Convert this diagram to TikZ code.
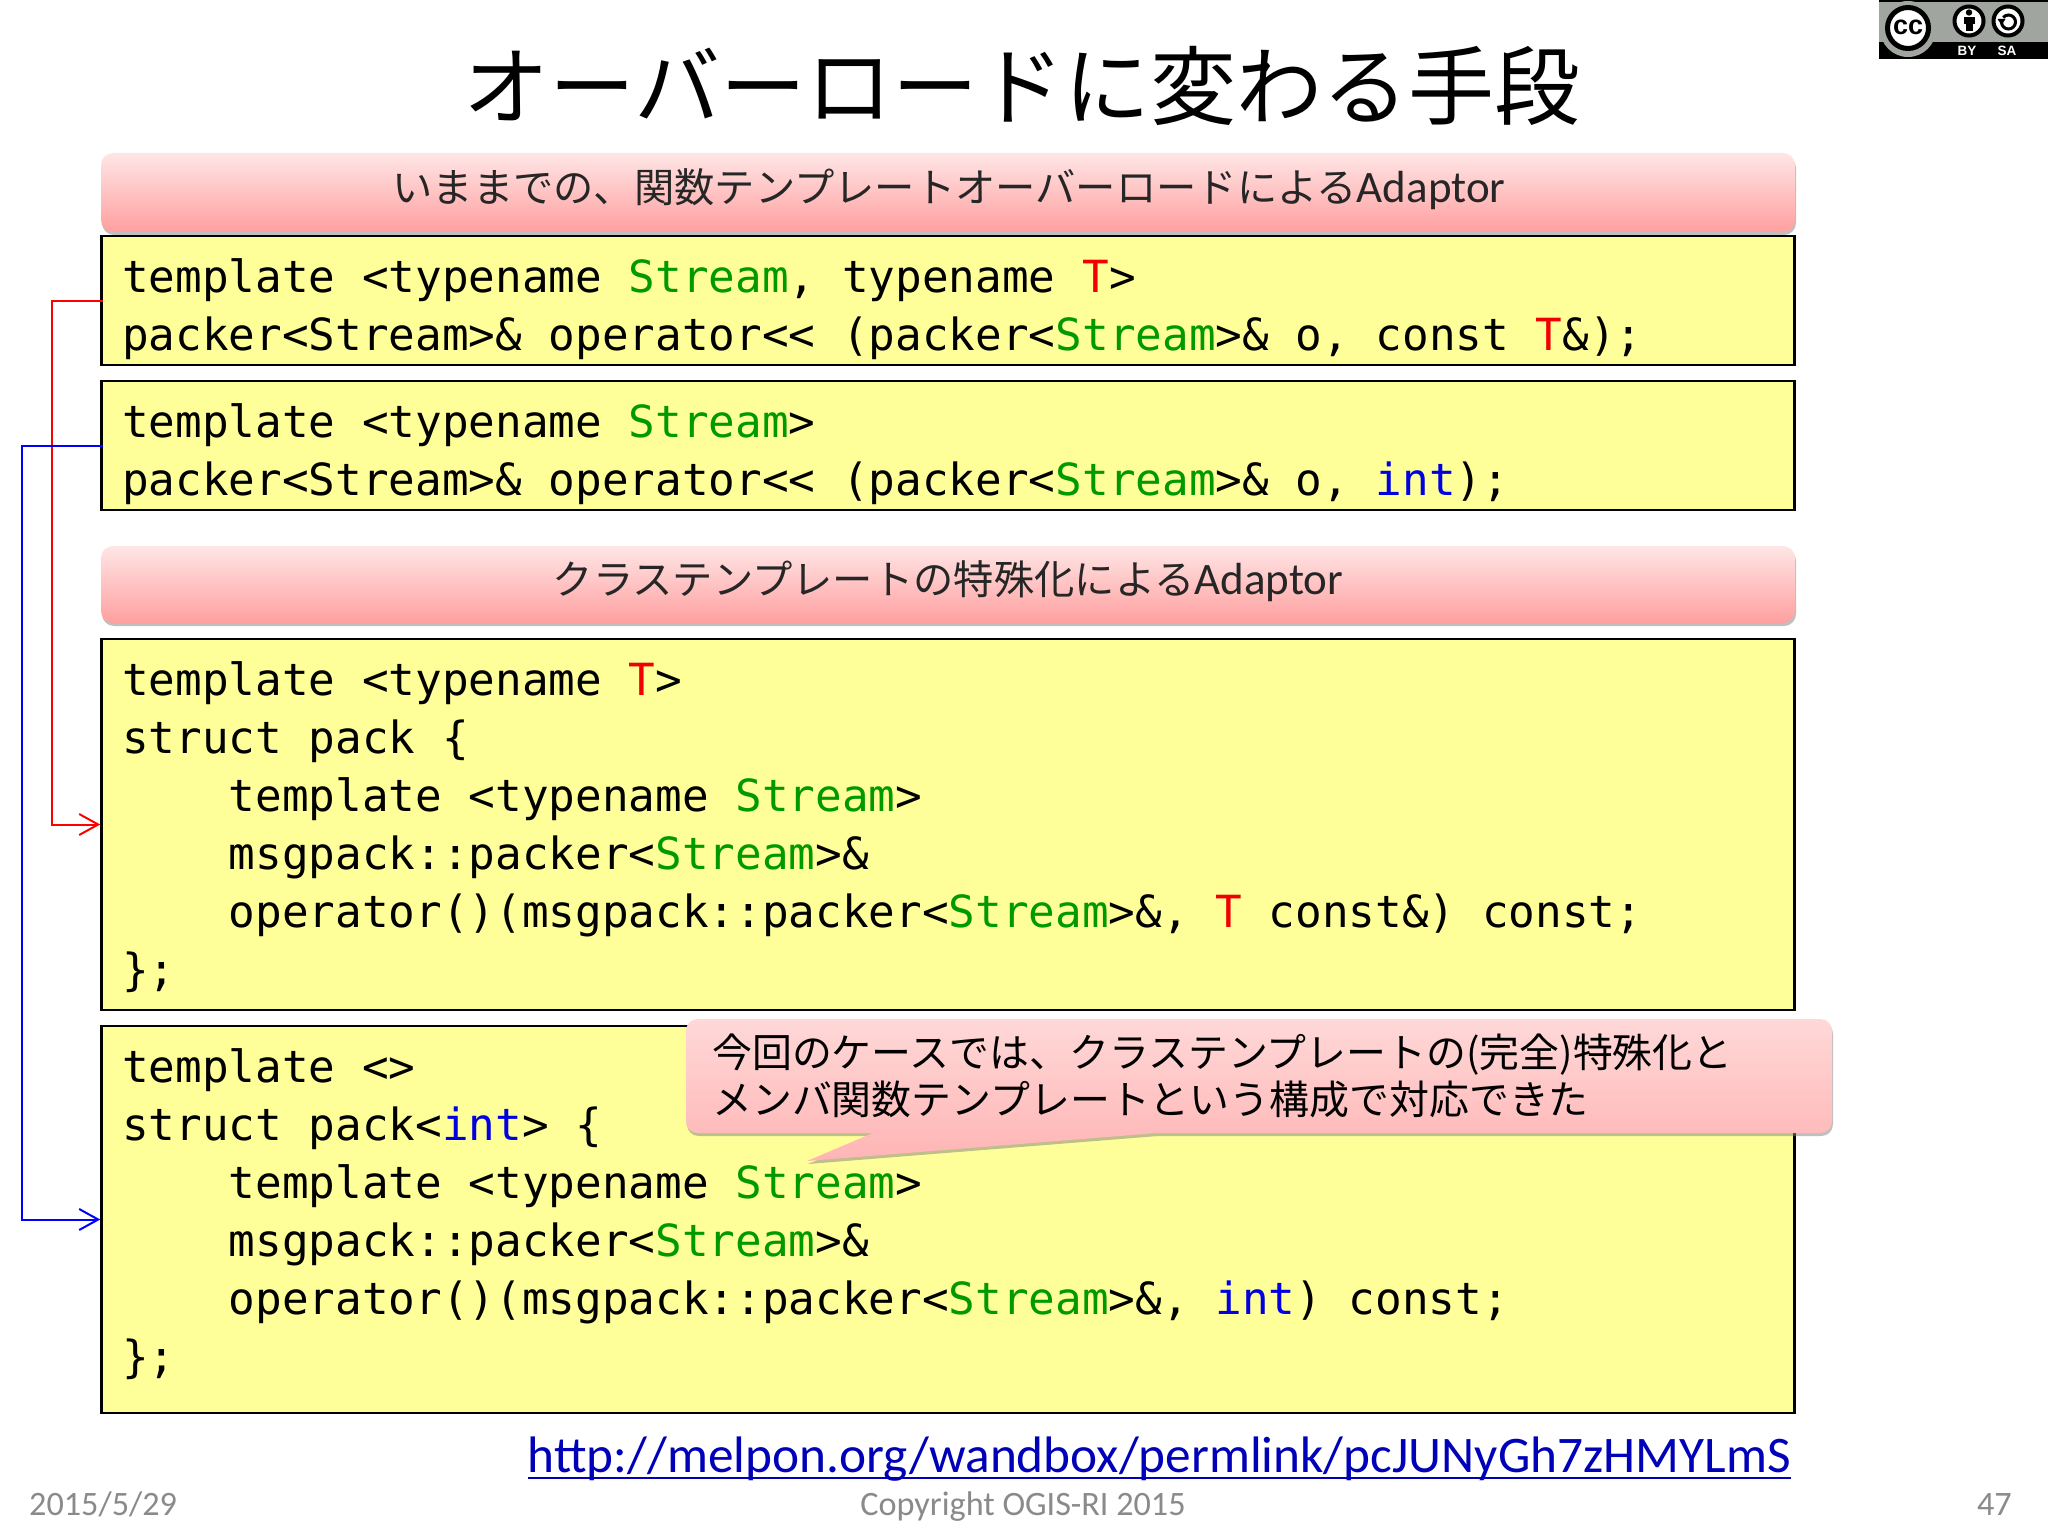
\documentclass[tikz,border=0pt]{standalone}
\usepackage{fontspec}
\setmainfont{Carlito}
\newfontfamily\cjk{Noto Sans CJK JP}
\newfontfamily\codef{DejaVu Sans Mono}
\usetikzlibrary{arrows.meta,shadows,calc}
\definecolor{codeyellow}{HTML}{FFFF99}
\definecolor{hdrtop}{HTML}{FFE6E6}
\definecolor{hdrbot}{HTML}{FF9F9F}
\definecolor{cgreen}{HTML}{009A00}
\definecolor{cred}{HTML}{F00000}
\definecolor{cblue}{HTML}{0000E0}
\definecolor{linkblue}{HTML}{0000B8}
\definecolor{foot}{HTML}{8A8A8A}
\definecolor{badge}{HTML}{A0A5A0}
\newcommand{\St}{\textcolor{cgreen}{Stream}}
\newcommand{\Tt}{\textcolor{cred}{T}}
\newcommand{\It}{\textcolor{cblue}{int}}
\tikzset{
  x=1pt,y=-1pt,
  codebox/.style={draw=black,line width=2.5pt,fill=codeyellow,inner sep=0pt,minimum width=1693pt},
  hdr/.style={rounded corners=12pt,top color=hdrtop,bottom color=hdrbot,inner sep=0pt,minimum width=1694pt,
     drop shadow={shadow xshift=1pt,shadow yshift=-3pt,opacity=.5}},
  hdrtext/.style={inner sep=0pt,anchor=base,font=\cjk\fontsize{40.3}{41}\selectfont,text=black!85},
  code/.style={anchor=base west,inner sep=0pt,font=\codef\fontsize{44.3}{58}\selectfont,text=black},
  foottext/.style={anchor=base,inner sep=0pt,font=\fontsize{34.2}{34}\selectfont,text=foot},
  link/.style={line width=2pt},
  conn/.style={line width=2pt,-{Straight Barb[length=19pt,width=21pt,line width=2pt]}},
  note/.style={anchor=base west,inner sep=0pt,font=\cjk\fontsize{39.9}{40}\selectfont,text=black},
}
\begin{document}
\begin{tikzpicture}
\useasboundingbox (0,0) rectangle (2048,1536);
\fill[white] (0,0) rectangle (2048,1536);
% title
\node[anchor=base,inner sep=0pt,font=\cjk\fontsize{86}{86}\selectfont,text=black] (title) at (1022,119) {オーバーロードに変わる手段};
% headers
\node[hdr,minimum height=79pt] (h1) at (948,192.5) {};
\node[hdrtext] (h1t) at (949,202) {いままでの、関数テンプレートオーバーロードによる{\fontspec{Carlito}\fontsize{45}{46}\selectfont Adaptor}};
\node[hdr,minimum height=77pt] (h2) at (948,584.5) {};
\node[hdrtext] (h2t) at (948,594) {クラステンプレートの特殊化による{\fontspec{Carlito}\fontsize{45}{46}\selectfont Adaptor}};
% boxes
\node[codebox,minimum height=129pt] (b1) at (948,300.5) {};
\node[codebox,minimum height=129pt] (b2) at (948,445.5) {};
\node[codebox,minimum height=371pt] (b3) at (948,824.5) {};
\node[codebox,minimum height=387pt] (b4) at (948,1219.5) {};
% code
\node[code] (c11) at (122,292) {template <typename \St, typename \Tt>};
\node[code] (c12) at (122,350) {packer<Stream>\& operator<< (packer<\St>\& o, const \Tt\&);};
\node[code] (c21) at (122,437) {template <typename \St>};
\node[code] (c22) at (122,495) {packer<Stream>\& operator<< (packer<\St>\& o, \It);};
\node[code] (c31) at (122,695) {template <typename \Tt>};
\node[code] (c32) at (122,753) {struct pack \{};
\node[code] (c33) at (228.5,811) {template <typename \St>};
\node[code] (c34) at (228.5,869) {msgpack::packer<\St>\&};
\node[code] (c35) at (228.5,927) {operator()(msgpack::packer<\St>\&, \Tt{} const\&) const;};
\node[code] (c36) at (122,985) {\};};
\node[code] (c41) at (122,1082) {template <>};
\node[code] (c42) at (122,1140) {struct pack<\It> \{};
\node[code] (c43) at (228.5,1198) {template <typename \St>};
\node[code] (c44) at (228.5,1256) {msgpack::packer<\St>\&};
\node[code] (c45) at (228.5,1314) {operator()(msgpack::packer<\St>\&, \It) const;};
\node[code] (c46) at (122,1372) {\};};
% connectors
\coordinate (rv) at (52,300);
\coordinate (bv) at (22,445);
\draw[conn,red,shorten <=-3pt] (b1.west) -- (b1.west -| rv) -- (b3.west -| rv) -- (b3.west);
\draw[conn,blue,shorten <=-3pt] (b2.west) -- (b2.west -| bv) -- (b4.west -| bv) -- (b4.west);
% callout
\path[top color=hdrtop!80!hdrbot,bottom color=hdrbot!70!hdrtop,drop shadow={shadow xshift=1pt,shadow yshift=-3pt,opacity=.5}]
  (698,1019) -- (1820,1019)
  .. controls (1827,1019) and (1832,1024) .. (1832,1031) -- (1832,1121)
  .. controls (1832,1128) and (1827,1133) .. (1820,1133)
  -- (1157,1133) -- (807,1161) -- (873,1133) -- (698,1133)
  .. controls (691,1133) and (686,1128) .. (686,1121) -- (686,1031)
  .. controls (686,1024) and (691,1019) .. (698,1019) -- cycle;
\node[note] (n1) at (712,1067) {今回のケースでは、クラステンプレートの(完全)特殊化と};
\node[note] (n2) at (712,1114) {メンバ関数テンプレートという構成で対応できた};
% url & footer
\node[anchor=base east,inner sep=0pt,font=\fontsize{51.3}{51}\selectfont,text=linkblue] (url) at (1791,1472) {http://melpon.org/wandbox/permlink/pcJUNyGh7zHMYLmS};
\draw[linkblue,link] (url.west |- 0,1478) -- (url.east |- 0,1478);
\node[foottext,anchor=base west] (date) at (29,1515) {2015/5/29};
\node[foottext] (copy) at (1023,1515) {Copyright OGIS-RI 2015};
\node[foottext,anchor=base east] (pg) at (2012,1515) {47};
% cc badge
\fill[badge] (1879,0) rectangle (2048,59);
\fill[black] (1879,0) rectangle (2048,2);
\fill[black] (1879,42) rectangle (2048,59);
\fill[badge] (1908,29) circle (28);
\draw[black,line width=5pt,fill=white] (1908,28) circle (20.5);
\node[inner sep=0pt,font=\fontspec{Liberation Sans}\bfseries\fontsize{27}{27}\selectfont] (cc) at (1908,27) {cc};
\draw[black,line width=4pt,fill=white] (1969,21) circle (14.5);
\fill[black] (1969,12.5) circle (3.2);
\fill[black] (1963.5,17) rectangle (1974.5,24);
\fill[black] (1965.5,24) rectangle (1972.5,31);
\draw[black,line width=4pt,fill=white] (2008,21) circle (14.5);
\draw[black,line width=3pt] (2001.5,22) arc (180:-140:7);
\fill[black] (1997.5,19) -- (2005.5,19) -- (2001.5,25) -- cycle;
\node[inner sep=0pt,text=white,font=\fontspec{Liberation Sans}\bfseries\fontsize{13.5}{13.5}\selectfont] (by) at (1967,51) {BY};
\node[inner sep=0pt,text=white,font=\fontspec{Liberation Sans}\bfseries\fontsize{13.5}{13.5}\selectfont] (sa) at (2007,51) {SA};
\end{tikzpicture}
\end{document}
